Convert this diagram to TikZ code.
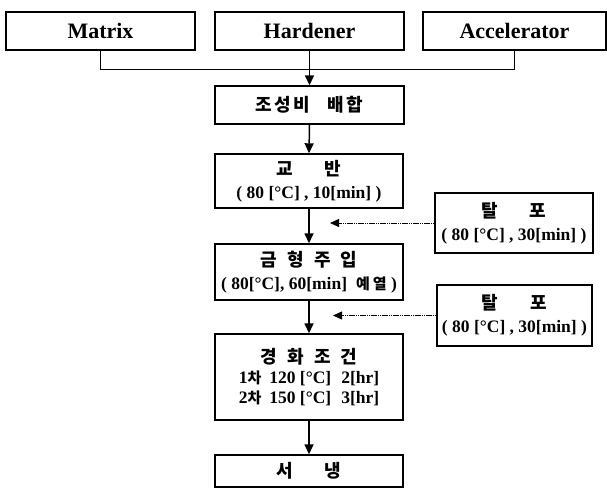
\documentclass[tikz,border=0pt]{standalone}
\usepackage{fontspec}
\setmainfont{Liberation Serif}
\newfontfamily\krfont{Noto Sans CJK KR}
\newcommand\hgl{\krfont\bfseries\fontsize{18}{23}\selectfont}
\newcommand\hgls{\krfont\bfseries\fontsize{15}{23}\selectfont}
\usetikzlibrary{arrows.meta}
\begin{document}
\begin{tikzpicture}[x=1pt,y=-1pt,
  box/.style={draw,line width=1.4pt,inner sep=0pt,align=center},
  top/.style={box,minimum height=38pt,font=\fontsize{22}{24}\selectfont\bfseries},
  lat/.style={font=\fontsize{17.5}{23}\selectfont\bfseries},
  arr/.style={line width=1.5pt,-{Triangle[length=10pt,width=9pt]}},
  darr/.style={line width=0.8pt,dash pattern=on 1.5pt off 0.7pt,-{Triangle[length=9pt,width=8pt]}},
  link/.style={line width=1.4pt}]
\useasboundingbox (0,0) rectangle (607,489);
% top inputs
\node[top,minimum width=189pt] (matrix) at (100.5,31) {Matrix};
\node[top,minimum width=189pt] (hard) at (309.5,31) {Hardener};
\node[top,minimum width=183pt] (acc) at (514.5,31) {Accelerator};
% main column
\node[box,minimum width=189pt,minimum height=38pt] (mix) at (309.5,105)
  {\hgl 조\kern2.5pt 성\kern2.5pt 비\kern17pt 배\kern2.5pt 합};
\node[box,lat,minimum width=188pt,minimum height=54pt] (stir) at (309,181)
  {{\hgl 교\kern32pt 반}\\( 80 [°C] , 10[min] )};
\node[box,lat,minimum width=188pt,minimum height=56pt] (mold) at (309,272)
  {{\hgl 금\kern10pt 형\kern10pt 주\kern10pt 입}\\( 80[°C], 60[min]\hspace{9pt}{\hgls 예\kern3pt 열} )};
\node[box,lat,minimum width=188pt,minimum height=86pt] (cure) at (309,377)
  {{\hgl 경\kern10pt 화\kern10pt 조\kern10pt 건}\\[-3pt]
   1{\hgls 차}\hspace{8pt}120 [°C]\hspace{10pt}2[hr]\\[-3pt]
   2{\hgls 차}\hspace{8pt}150 [°C]\hspace{10pt}3[hr]};
\node[box,minimum width=188pt,minimum height=32pt] (cool) at (309,471)
  {\hgl 서\kern32pt 냉};
% degassing
\node[box,lat,minimum width=158pt,minimum height=60pt] (t1) at (514,223)
  {{\hgl 탈\kern32pt 포}\\( 80 [°C] , 30[min] )};
\node[box,lat,minimum width=155pt,minimum height=61pt] (t2) at (514.5,315.5)
  {{\hgl 탈\kern32pt 포}\\( 80 [°C] , 30[min] )};
\coordinate (d1) at (330,223);
\coordinate (d2) at (333,315.5);
% connectors
\draw[link] (matrix.south) -- ++(0,19) -| (acc.south);
\draw[arr] (hard.south) -- (mix.north);
\draw[arr] (mix.south) -- (stir.north);
\draw[arr] (stir.south) -- (mold.north);
\draw[arr] (mold.south) -- (cure.north);
\draw[arr] (cure.south) -- (cool.north);
\draw[darr] (t1.west) -- (d1);
\draw[darr] (t2.west) -- (d2);
\end{tikzpicture}
\end{document}
